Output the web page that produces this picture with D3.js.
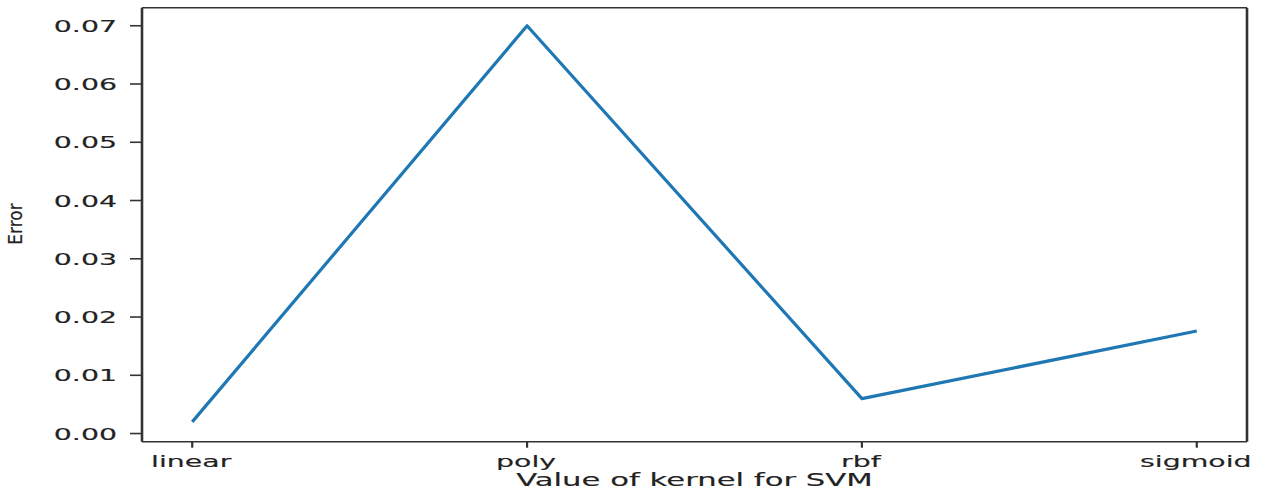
<!DOCTYPE html>
<html>
<head>
<meta charset="utf-8">
<script src="https://cdn.jsdelivr.net/npm/d3@7"></script>
<style>
  html, body { margin: 0; padding: 0; background: #fff; }
  text { font-family: "DejaVu Sans", sans-serif; fill: #222; stroke: #222; stroke-width: 0.15px; }
</style>
</head>
<body>
<svg id="chart" width="1265" height="493"></svg>
<script>
const categories = ["linear", "poly", "rbf", "sigmoid"];
const errorValues = [0.002, 0.070, 0.006, 0.0176];
const yTickValues = [0.00, 0.01, 0.02, 0.03, 0.04, 0.05, 0.06, 0.07];
const xLabel = "Value of kernel for SVM";
const yLabel = "Error";

const svg = d3.select("#chart");
const plotLeft = 142, plotRight = 1247, plotTop = 7.7, plotBottom = 441.7;

const x = d3.scalePoint().domain(categories).range([plotLeft, plotRight]).padding(0.15);
const y = d3.scaleLinear().domain([-0.0014, 0.0731]).range([plotBottom, plotTop]);

const tickFont = 16.5, tickSX = 1.72;

// y ticks
const yg = svg.append("g");
yTickValues.forEach(v => {
  const yy = y(v);
  yg.append("line").attr("x1", plotLeft - 12).attr("x2", plotLeft).attr("y1", yy).attr("y2", yy)
    .attr("stroke", "#333").attr("stroke-width", 1.6);
  yg.append("text")
    .attr("transform", `translate(117,${yy}) scale(${tickSX},1)`)
    .attr("text-anchor", "end").attr("dominant-baseline", "central")
    .style("font-size", tickFont + "px")
    .text(d3.format(".2f")(v));
});

// x ticks
const xg = svg.append("g");
categories.forEach(c => {
  const xx = x(c);
  xg.append("line").attr("x1", xx).attr("x2", xx).attr("y1", plotBottom).attr("y2", plotBottom + 6)
    .attr("stroke", "#333").attr("stroke-width", 2.2);
  xg.append("text")
    .attr("transform", `translate(${xx - 1},466.5) scale(${tickSX},1)`)
    .attr("text-anchor", "middle")
    .style("font-size", tickFont + "px")
    .text(c);
});

// line
const line = d3.line().x((d, i) => x(categories[i])).y(d => y(d));
svg.append("path").datum(errorValues)
  .attr("d", line)
  .attr("fill", "none")
  .attr("stroke", "#1f77b4")
  .attr("stroke-width", 3.2)
  .attr("stroke-linejoin", "round")
  .attr("stroke-linecap", "butt");

// spines
svg.append("line").attr("x1", plotLeft).attr("x2", plotRight).attr("y1", plotTop).attr("y2", plotTop)
  .attr("stroke", "#333").attr("stroke-width", 1.6);
svg.append("line").attr("x1", plotLeft).attr("x2", plotRight).attr("y1", plotBottom).attr("y2", plotBottom)
  .attr("stroke", "#333").attr("stroke-width", 1.6);
svg.append("line").attr("x1", plotLeft).attr("x2", plotLeft).attr("y1", plotTop).attr("y2", plotBottom)
  .attr("stroke", "#333").attr("stroke-width", 2.6);
svg.append("line").attr("x1", plotRight).attr("x2", plotRight).attr("y1", plotTop).attr("y2", plotBottom)
  .attr("stroke", "#333").attr("stroke-width", 2.6);

// axis labels
svg.append("text")
  .attr("transform", `translate(${(plotLeft + plotRight) / 2},485.5) scale(1.66,1)`)
  .attr("text-anchor", "middle")
  .style("font-size", "18.5px")
  .text(xLabel);

svg.append("text")
  .attr("transform", `translate(22,224) rotate(-90) scale(0.85,1)`)
  .attr("text-anchor", "middle")
  .style("font-size", "20px")
  .text(yLabel);
</script>
</body>
</html>
